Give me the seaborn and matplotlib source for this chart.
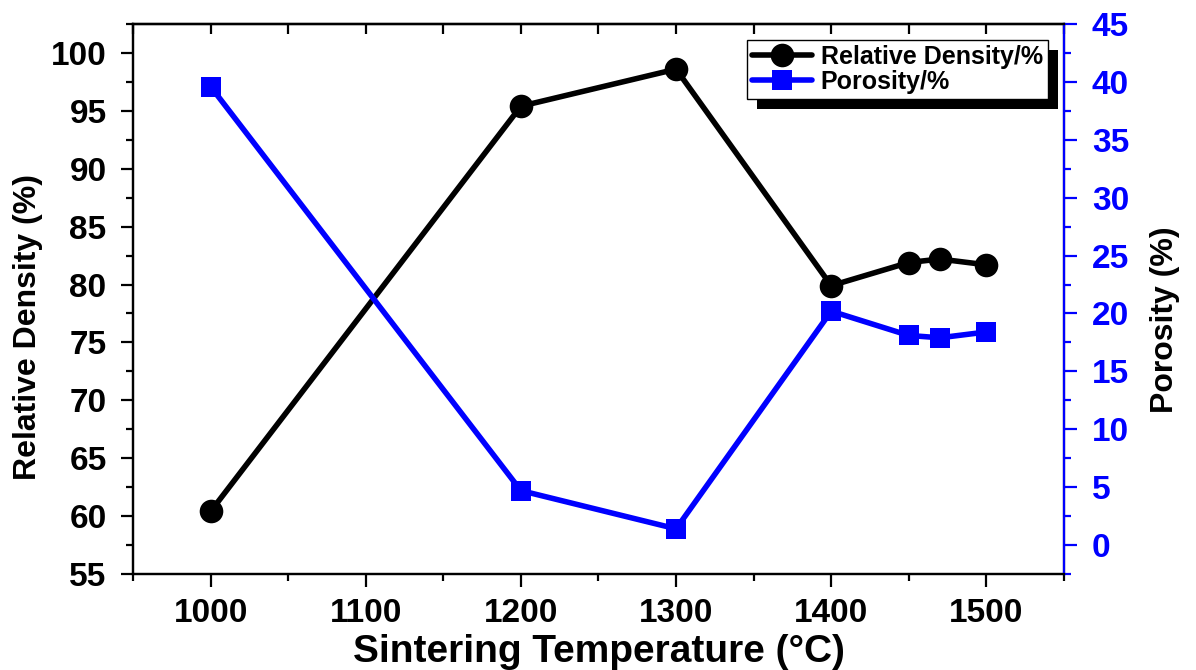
import matplotlib
matplotlib.use("Agg")
import matplotlib.pyplot as plt
import matplotlib.patheffects as pe
from matplotlib.ticker import MultipleLocator
import seaborn as sns
import pandas as pd

temperature = [1000, 1200, 1300, 1400, 1450, 1470, 1500]
relative_density = [60.4, 95.4, 98.6, 79.9, 81.9, 82.2, 81.7]
porosity = [39.6, 4.7, 1.4, 20.2, 18.1, 17.9, 18.4]

df = pd.DataFrame({"T": temperature, "RD": relative_density, "P": porosity})

sns.set_theme(style="ticks")
plt.rcParams["font.family"] = ["Liberation Sans", "DejaVu Sans"]
plt.rcParams["font.weight"] = "bold"
for k in ["text.color", "axes.labelcolor", "xtick.color", "ytick.color", "axes.edgecolor"]:
    plt.rcParams[k] = "black"

BLUE = "#0000ff"

fig = plt.figure(figsize=(11.96, 6.70), dpi=100)
ax = fig.add_axes([0.1112, 0.1433, 0.7784, 0.8209])
ax2 = ax.twinx()

sns.lineplot(data=df, x="T", y="RD", ax=ax, color="black", linewidth=4.0,
             marker="o", markersize=17, markeredgecolor="black",
             markeredgewidth=0, label="Relative Density/%", legend=False)
sns.lineplot(data=df, x="T", y="P", ax=ax2, color=BLUE, linewidth=4.0,
             marker="s", markersize=15, markeredgecolor=BLUE,
             markeredgewidth=0, label="Porosity/%", legend=False)

ax.set_xlim(950, 1550)
ax.set_ylim(55, 102.5)
ax2.set_ylim(-2.5, 45)

ax.xaxis.set_major_locator(MultipleLocator(100))
ax.xaxis.set_minor_locator(MultipleLocator(50))
ax.yaxis.set_major_locator(MultipleLocator(5))
ax.yaxis.set_minor_locator(MultipleLocator(2.5))
ax2.yaxis.set_major_locator(MultipleLocator(5))
ax2.yaxis.set_minor_locator(MultipleLocator(2.5))

for a in (ax, ax2):
    for s in a.spines.values():
        s.set_linewidth(1.6)
        s.set_color("black")
ax2.spines["right"].set_color(BLUE)

ax.tick_params(axis="x", which="major", direction="out", length=9, width=1.6,
               labelsize=24, color="black", labelcolor="black", pad=8)
ax.tick_params(axis="y", which="major", direction="out", length=9, width=1.6,
               labelsize=24, color="black", labelcolor="black", pad=10)
ax.tick_params(axis="both", which="minor", direction="out", length=5, width=1.6,
               color="black")
ax2.tick_params(axis="y", which="major", direction="out", length=9, width=1.6,
                labelsize=24, colors=BLUE, pad=11)
ax2.tick_params(axis="y", which="minor", direction="out", length=5, width=1.6,
                colors=BLUE)

for lab in ax.get_xticklabels() + ax.get_yticklabels() + ax2.get_yticklabels():
    lab.set_fontweight("bold")

# top inward ticks
top = ax.secondary_xaxis("top")
top.xaxis.set_major_locator(MultipleLocator(50))
top.tick_params(axis="x", direction="in", length=7, width=1.6, labeltop=False,
                color="black")
top.spines["top"].set_linewidth(1.6)

ax.set_xlabel("Sintering Temperature (\u00b0C)", fontsize=28, fontweight="bold", labelpad=4)
ax.set_ylabel("Relative Density (%)", fontsize=23, fontweight="bold")
ax2.set_ylabel("Porosity (%)", fontsize=23, fontweight="bold", color="black")
ax.yaxis.set_label_coords(-0.097, 0.449)
ax2.yaxis.set_label_coords(1.092, 0.462)

h1, l1 = ax.get_legend_handles_labels()
h2, l2 = ax2.get_legend_handles_labels()
leg = ax2.legend(h1 + h2, l1 + l2, loc="upper right", bbox_to_anchor=(0.988, 0.98),
                 fancybox=False, edgecolor="black", framealpha=1,
                 prop={"weight": "bold", "size": 18}, handlelength=2.4,
                 labelspacing=0.05, borderpad=0.2, handletextpad=0.35,
                 borderaxespad=0.2, markerscale=1.0)
leg.get_frame().set_linewidth(1.0)
leg.get_frame().set_path_effects([
    pe.SimplePatchShadow(offset=(7, -7), shadow_rgbFace="black", alpha=1.0),
    pe.Normal()])

fig.savefig("out.png", dpi=100)
